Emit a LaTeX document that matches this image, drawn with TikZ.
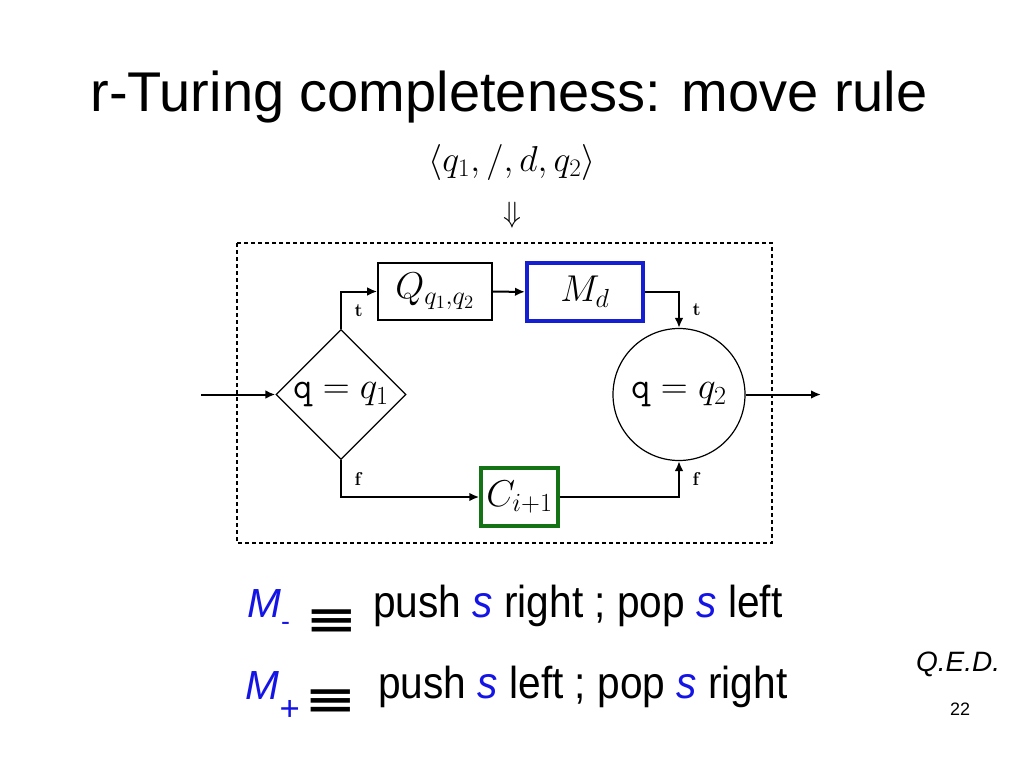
\RequirePackage{fix-cm}
\documentclass[tikz,border=0pt]{standalone}
\usepackage{amsmath, amssymb}
\usepackage[no-math]{fontspec}
\setmainfont{Liberation Sans}
\newfontfamily\symbfont{DejaVu Sans}
\usetikzlibrary{arrows.meta, shapes.geometric}
\definecolor{sblue}{RGB}{20,20,230}
\definecolor{mdblue}{RGB}{20,30,210}
\definecolor{cgreen}{RGB}{20,115,20}

\begin{document}
\begin{tikzpicture}[x=0.75pt, y=-0.75pt,
		flow/.style={line width=1.5pt, -{Latex[length=7.5pt,width=6.5pt]}},
		box/.style={draw, line width=1.2pt, inner sep=0pt, font=\fontsize{28}{32}\selectfont},
		lbl/.style={font=\fontsize{14}{16}\selectfont, right, inner sep=9.5pt},
		big/.style={font=\fontsize{30.5}{36}\selectfont, inner sep=0pt},
		eqv/.style={font=\symbfont\bfseries\fontsize{42}{44}\selectfont, inner sep=0pt}]
			\useasboundingbox (0,0) rectangle (1023,767);
			\node[font=\fontsize{42}{50}\selectfont, anchor=base] (title) at (509,111) {r-Turing completeness: move rule};
			\node[font=\fontsize{27}{32}\selectfont] (rule) at (512,162) {$\langle q_1, /, d, q_2\rangle$};
			\node[font=\fontsize{22}{26}\selectfont] (implies) at (512,215) {$\Downarrow$};
			\draw[line width=1.5pt, dash pattern=on 3pt off 2.25pt] (237,243) rectangle (772,543);
			\node[box, diamond, line width=0.9pt, minimum width=97.5pt, minimum height=97.5pt] (dq) at (341,394.5) {$\texttt{q} = q_1$};
			\node[box, minimum width=85.5pt, minimum height=42.75pt] (Q) at (435,291.5) {$Q_{q_1,q_2}$};
			\node[box, draw=mdblue, line width=3pt, minimum width=87pt, minimum height=43.5pt] (M) at (585,292) {$M_d$};
			\node[box, draw=cgreen, line width=2.6pt, minimum width=57.75pt, minimum height=43.5pt] (C) at (519.5,497) {$C_{i+1}$};
			\node[box, circle, line width=0.9pt, minimum size=99pt] (eq) at (679,394.5) {$\texttt{q} = q_2$};
			\coordinate (in) at (201,394.5);
			\coordinate (out) at (821,394.5);
			\draw[flow] (in) -- (dq);
			\draw[flow] (dq.north) |- (Q) node[lbl, pos=0.25] {$\mathbf{t}$};
			\draw[flow] (Q) -- (M);
			\draw[flow] (M) -| (eq.north) node[lbl, pos=0.75] {$\mathbf{t}$};
			\draw[flow] (dq.south) |- (C) node[lbl, pos=0.25] {$\mathbf{f}$};
			\draw[flow] (C) -| (eq.south) node[lbl, pos=0.75] {$\mathbf{f}$};
			\draw[flow] (eq) -- (out);
			\node[big, anchor=base west, text=sblue] (Mminus) at (247,617) {\textit{M}{\fontsize{20}{20}\selectfont\raisebox{-10pt}{-}}};
			\node[eqv] (eqv1) at (332,622) {\scalebox{1.12}[0.72]{≡}};
			\node[big, anchor=base west] (line1) at (373,617) {\scalebox{1}[1.1]{push \textcolor{sblue}{\textit{s}} right ; pop \textcolor{sblue}{\textit{s}} left}};
			\node[big, anchor=base west, text=sblue] (Mplus) at (245,699) {\textit{M}{\fontsize{26}{26}\selectfont\raisebox{-16pt}{\textit{+}}}};
			\node[eqv] (eqv2) at (331,702) {\scalebox{1.12}[0.72]{≡}};
			\node[big, anchor=base west] (line2) at (378,698) {\scalebox{1}[1.1]{push \textcolor{sblue}{\textit{s}} left ; pop \textcolor{sblue}{\textit{s}} right}};
			\node[font=\fontsize{21}{24}\selectfont\itshape] (qed) at (958,664) {Q.E.D.};
			\node[font=\fontsize{13.5}{16}\selectfont] (page) at (960,709) {22};
	\end{tikzpicture}
\end{document}
